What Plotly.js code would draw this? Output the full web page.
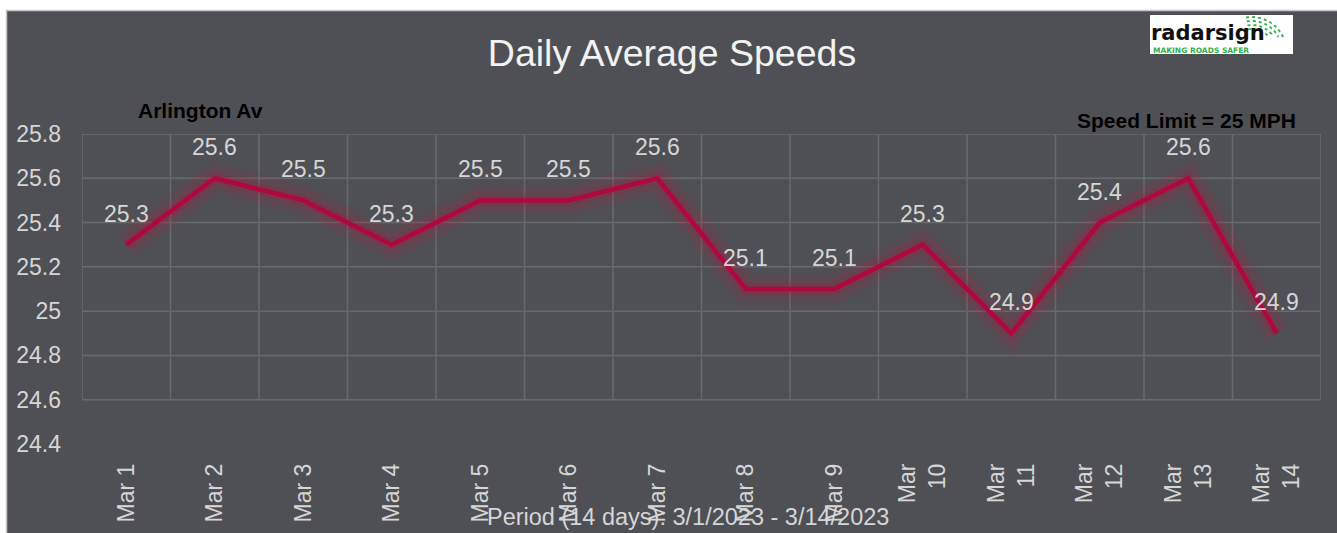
<!DOCTYPE html>
<html>
<head>
<meta charset="utf-8">
<script src="https://cdn.plot.ly/plotly-3.0.1.min.js"></script>
<style>html,body{margin:0;padding:0;background:#fff;}#chart{width:1337px;height:533px;}</style>
</head>
<body>
<div id="chart"></div>
<script>
const categories = ['Mar 1','Mar 2','Mar 3','Mar 4','Mar 5','Mar 6','Mar 7','Mar 8','Mar 9','Mar 10','Mar 11','Mar 12','Mar 13','Mar 14'];
const tickLabels = ['Mar 1','Mar 2','Mar 3','Mar 4','Mar 5','Mar 6','Mar 7','Mar 8','Mar 9','Mar<br>10','Mar<br>11','Mar<br>12','Mar<br>13','Mar<br>14'];
const speeds = [25.3, 25.6, 25.5, 25.3, 25.5, 25.5, 25.6, 25.1, 25.1, 25.3, 24.9, 25.4, 25.6, 24.9];
const yTickVals = [24.4, 24.6, 24.8, 25.0, 25.2, 25.4, 25.6, 25.8];
const yTickText = ['24.4','24.6','24.8','25','25.2','25.4','25.6','25.8'];
const gridYVals = [24.6, 24.8, 25.0, 25.2, 25.4, 25.6, 25.8];
const chartTitle = 'Daily Average Speeds';
const locationName = 'Arlington Av';
const speedLimitText = 'Speed Limit = 25 MPH';
const periodText = 'Period (14 days): 3/1/2023 - 3/14/2023';
const logoName = 'radarsign';
const logoTagline = 'MAKING ROADS SAFER';

const W = 1337, H = 533;
const M = {l: 82, r: 16, t: 134, b: 89};
const pw = W - M.l - M.r, ph = H - M.t - M.b;
const px = v => (v - M.l) / pw;
const py = v => (H - M.b - v) / ph;

const FONT = 'Liberation Sans, Arial, sans-serif';
const LIGHT = '#d6d6d6';
const BG = '#4e5055';
const GRID = '#686a6e';

const traces = [
  {x: categories, y: speeds, type: 'scatter', mode: 'lines', line: {color: 'rgba(175,30,70,0.09)', width: 32}, hoverinfo: 'skip', showlegend: false},
  {x: categories, y: speeds, type: 'scatter', mode: 'lines', line: {color: 'rgba(175,30,70,0.13)', width: 21}, hoverinfo: 'skip', showlegend: false},
  {x: categories, y: speeds, type: 'scatter', mode: 'lines', line: {color: 'rgba(175,25,65,0.22)', width: 11}, hoverinfo: 'skip', showlegend: false},
  {x: categories, y: speeds, type: 'scatter', mode: 'lines', line: {color: '#b0073f', width: 4.5}, showlegend: false}
];

const shapes = [];
// frame: white strips at top and left
shapes.push({type: 'rect', xref: 'paper', yref: 'paper', x0: px(0), x1: px(W), y0: py(0), y1: py(10), fillcolor: '#ffffff', line: {width: 0}, layer: 'above'});
shapes.push({type: 'rect', xref: 'paper', yref: 'paper', x0: px(0), x1: px(6), y0: py(0), y1: py(H), fillcolor: '#ffffff', line: {width: 0}, layer: 'above'});
shapes.push({type: 'line', xref: 'paper', yref: 'paper', x0: px(6.5), x1: px(W), y0: py(10.5), y1: py(10.5), line: {color: '#c8c8c8', width: 1.5}, layer: 'above'});
shapes.push({type: 'line', xref: 'paper', yref: 'paper', x0: px(6.5), x1: px(6.5), y0: py(10.5), y1: py(H), line: {color: '#c8c8c8', width: 1.5}, layer: 'above'});

// gridlines (only from 24.6 up, as in the reference)
gridYVals.forEach(v => shapes.push({type: 'line', xref: 'x', yref: 'y', x0: -0.5, x1: categories.length - 0.5, y0: v, y1: v, line: {color: GRID, width: 1.5}, layer: 'below'}));
for (let i = 0; i <= categories.length; i++) {
  shapes.push({type: 'line', xref: 'x', yref: 'y', x0: i - 0.5, x1: i - 0.5, y0: gridYVals[0], y1: gridYVals[gridYVals.length - 1], line: {color: GRID, width: 1.5}, layer: 'below'});
}

// logo box
shapes.push({type: 'rect', xref: 'paper', yref: 'paper', x0: px(1150), x1: px(1293), y0: py(54), y1: py(15), fillcolor: '#ffffff', line: {width: 0}, layer: 'above'});
// logo arcs (decoration)
const arcC = [1252, 51];
[34, 30, 26, 22].forEach((r, k) => {
  let d = '';
  for (let a = 100; a >= 22 + k * 6; a -= 6) {
    const t = a * Math.PI / 180;
    const X = arcC[0] + r * Math.cos(t), Y = arcC[1] - r * Math.sin(t);
    d += (d ? ' L ' : 'M ') + px(X) + ' ' + py(Y);
  }
  shapes.push({type: 'path', xref: 'paper', yref: 'paper', path: d,
    line: {color: '#2fae4c', width: 1.8, dash: 'dot'}, layer: 'above'});
});

const annotations = speeds.map((v, i) => ({
  x: categories[i], y: v, xref: 'x', yref: 'y', text: v.toFixed(1), showarrow: false,
  yshift: 31, font: {family: FONT, size: 23, color: LIGHT}
}));
annotations.push({xref: 'paper', yref: 'paper', x: px(200), y: py(110), text: locationName, showarrow: false,
  xanchor: 'center', yanchor: 'middle', font: {family: FONT, size: 21, color: '#000000', weight: 700}});
annotations.push({xref: 'paper', yref: 'paper', x: px(1186), y: py(120.5), text: speedLimitText, showarrow: false,
  xanchor: 'center', yanchor: 'middle', font: {family: FONT, size: 21, color: '#000000', weight: 700}});
annotations.push({xref: 'paper', yref: 'paper', x: px(688), y: py(517), text: periodText, showarrow: false,
  xanchor: 'center', yanchor: 'middle', font: {family: FONT, size: 23.5, color: LIGHT}});
annotations.push({xref: 'paper', yref: 'paper', x: px(1149), y: py(33), text: logoName, showarrow: false,
  xanchor: 'left', yanchor: 'middle', font: {family: 'DejaVu Sans, sans-serif', size: 21, color: '#111111', weight: 700}});
annotations.push({xref: 'paper', yref: 'paper', x: px(1151), y: py(50.5), text: logoTagline, showarrow: false,
  xanchor: 'left', yanchor: 'middle', font: {family: 'DejaVu Sans, sans-serif', size: 7.5, color: '#2fae4c', weight: 700}});

const layout = {
  width: W, height: H,
  margin: M,
  paper_bgcolor: BG, plot_bgcolor: BG,
  title: {text: chartTitle, x: px(672), xref: 'paper', xanchor: 'center', y: 1 - 53 / H, yref: 'container', yanchor: 'middle',
    font: {family: FONT, size: 37.5, color: '#f2f2f2'}},
  xaxis: {type: 'category', tickvals: categories, ticktext: tickLabels, range: [-0.5, categories.length - 0.5],
    tickangle: -90, showgrid: false, zeroline: false, showline: false, ticks: '', ticklabelstandoff: 14,
    tickfont: {family: FONT, size: 23, color: LIGHT}, fixedrange: true},
  yaxis: {range: [24.4, 25.8], tickvals: yTickVals, ticktext: yTickText, showgrid: false, zeroline: false, showline: false,
    ticks: '', ticklabelstandoff: 20, tickfont: {family: FONT, size: 23, color: LIGHT}, fixedrange: true},
  shapes: shapes,
  annotations: annotations,
  showlegend: false
};

Plotly.newPlot('chart', traces, layout, {displayModeBar: false, staticPlot: true});
</script>
</body>
</html>
